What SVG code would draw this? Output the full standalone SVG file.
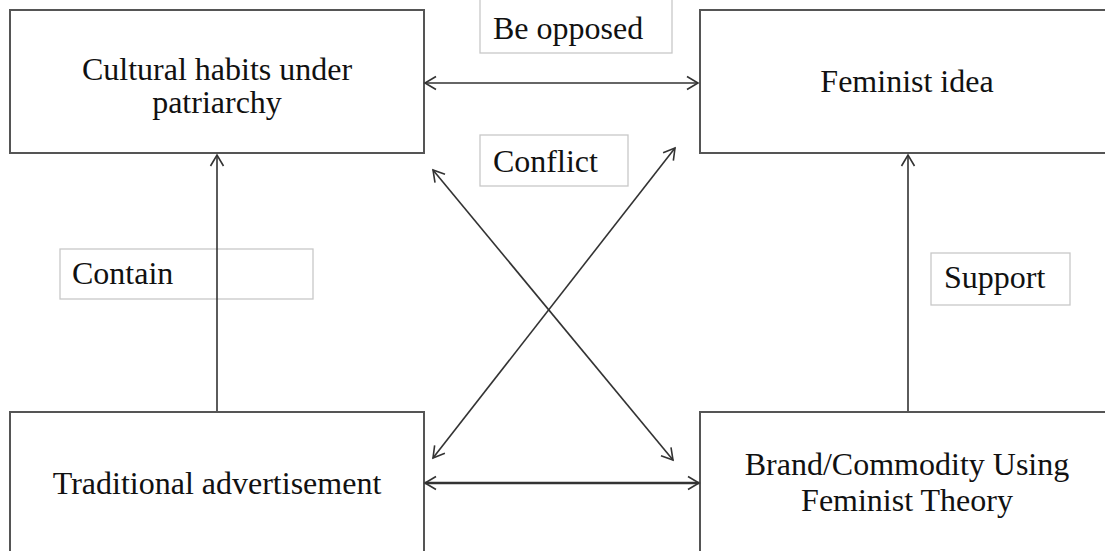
<svg xmlns="http://www.w3.org/2000/svg" width="1105" height="551" viewBox="0 0 1105 551">
<style>
  .node { fill: #ffffff; stroke: #555555; stroke-width: 2; }
  .lbl { fill: none; stroke: #c8c8c8; stroke-width: 1.3; }
  text { font-family: "Liberation Serif", "Times New Roman", serif; font-size: 32px; fill: #111111; }
  .c { text-anchor: middle; }
  .conn { stroke: #333333; stroke-width: 1.6; fill: none; marker-end: url(#arr); marker-start: url(#arr); }
  .single { stroke: #333333; stroke-width: 1.6; fill: none; marker-end: url(#arr); }
</style>
<defs>
  <marker id="arr" markerUnits="userSpaceOnUse" markerWidth="14" markerHeight="16" viewBox="0 0 14 16" refX="12" refY="8" orient="auto-start-reverse">
    <path d="M1,1.5 L12,8 L1,14.5" fill="none" stroke="#333333" stroke-width="1.6"/>
  </marker>
</defs>
<rect width="1105" height="551" fill="#ffffff"/>

<g id="node-cultural">
  <rect class="node" x="10" y="10" width="414" height="143"/>
  <text class="c" x="217" y="80">Cultural habits under</text>
  <text class="c" x="217" y="113">patriarchy</text>
</g>
<g id="node-feminist">
  <rect class="node" x="700" y="10" width="416" height="143"/>
  <text class="c" x="907" y="92">Feminist idea</text>
</g>
<g id="node-traditional">
  <rect class="node" x="10" y="412" width="414" height="160"/>
  <text class="c" x="217" y="494">Traditional advertisement</text>
</g>
<g id="node-brand">
  <rect class="node" x="700" y="412" width="416" height="160"/>
  <text class="c" x="907" y="475">Brand/Commodity Using</text>
  <text class="c" x="907" y="511">Feminist Theory</text>
</g>

<g id="label-opposed">
  <rect class="lbl" x="480" y="-5" width="192" height="58"/>
  <text x="493" y="39">Be opposed</text>
</g>
<g id="label-conflict">
  <rect class="lbl" x="480" y="135" width="148" height="51"/>
  <text x="493" y="172">Conflict</text>
</g>
<g id="label-contain">
  <rect class="lbl" x="60" y="249" width="253" height="50"/>
  <text x="72" y="284">Contain</text>
</g>
<g id="label-support">
  <rect class="lbl" x="931" y="253" width="139" height="52"/>
  <text x="944" y="288">Support</text>
</g>

<g id="connectors">
  <line class="conn" x1="425" y1="83" x2="698" y2="83"/>
  <line class="conn" x1="425" y1="483" x2="699" y2="483" style="stroke-width:2.6"/>
  <line class="single" x1="217" y1="411" x2="217" y2="155"/>
  <line class="single" x1="908" y1="411" x2="908" y2="155"/>
  <line class="conn" x1="433" y1="170" x2="673" y2="460"/>
  <line class="conn" x1="675" y1="148" x2="433" y2="458"/>
</g>
</svg>
